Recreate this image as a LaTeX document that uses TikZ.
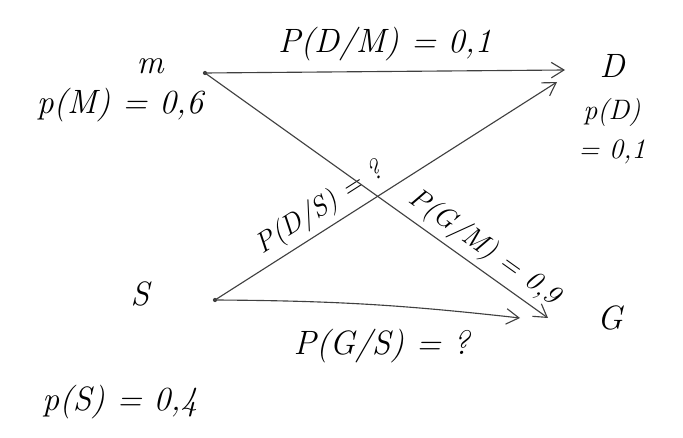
\documentclass[tikz,border=0pt]{standalone}
\usetikzlibrary{arrows.meta}
\tikzset{
  hand/.style={line width=0.8pt,color=black!75,-{Straight Barb[length=9pt,width=11pt]}},
  lbl/.style={font=\fontsize{24}{28}\selectfont\itshape,text=black,inner sep=1pt},
  slbl/.style={font=\fontsize{20}{24}\selectfont\itshape,text=black,inner sep=1pt}
}
\begin{document}
\begin{tikzpicture}[x=0.025cm,y=-0.025cm]
\useasboundingbox (0,0) rectangle (683,438);
\coordinate (mpt) at (205,73);
\coordinate (spt) at (215,300);
\coordinate (dpt) at (565,70);
\coordinate (dpt2) at (557,82);
\coordinate (gpt) at (548,318);
\coordinate (gpt2) at (520,318);
\node[lbl] (m) at (150,66) {m};
\node[lbl] (pm) at (120,105) {p(M) = 0,6};
\node[lbl] (d) at (612,66) {D};
\node[slbl] (pd) at (612,112) {p(D)};
\node[slbl] (pd2) at (612,152) {= 0,1};
\node[lbl] (s) at (140,294) {S};
\node[lbl] (ps) at (120,402) {p(S) = 0,4};
\node[lbl] (g) at (610,318) {G};
\draw[hand] (mpt) -- node[lbl,above=6pt] {P(D/M) = 0,1} (dpt);
\draw[hand] (spt) -- node[slbl,sloped,above=3pt,pos=0.34] {P(D/S) = ?} (dpt2);
\draw[hand] (mpt) -- node[slbl,sloped,above=3pt,pos=0.78] {P(G/M) = 0,9} (gpt);
\draw[hand] (spt) to[bend left=3] node[lbl,below=16pt,pos=0.55] {P(G/S) = ?} (gpt2);
\fill[black!75] (mpt) circle (1.5pt);
\fill[black!75] (spt) circle (1.5pt);
\end{tikzpicture}
\end{document}
